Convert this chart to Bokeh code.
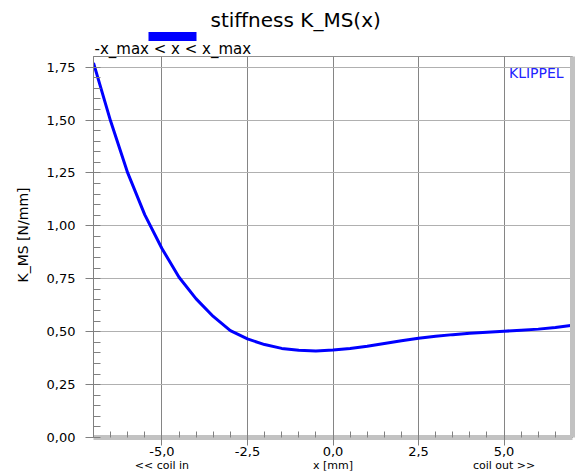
import numpy as np
from bokeh.plotting import figure
from bokeh.models import FixedTicker, Label, Range1d, Title, LinearAxis
from bokeh.embed import file_html
from bokeh.resources import INLINE

# ---- data ----
x_mm = [-7.0, -6.5, -6.0, -5.5, -5.0, -4.5, -4.0, -3.5, -3.0, -2.5, -2.0, -1.5,
        -1.0, -0.5, 0.0, 0.5, 1.0, 1.5, 2.0, 2.5, 3.0, 3.5, 4.0, 4.5, 5.0, 5.5,
        6.0, 6.5, 7.0]
k_ms = [1.77, 1.495, 1.25, 1.052, 0.893, 0.757, 0.655, 0.572, 0.505, 0.466, 0.439, 0.421,
        0.412, 0.409, 0.413, 0.421, 0.431, 0.444, 0.457, 0.469, 0.478, 0.486, 0.492, 0.497,
        0.502, 0.507, 0.512, 0.52, 0.53]

x_ticks = [-5.0, -2.5, 0.0, 2.5, 5.0]
x_tick_labels = ["-5,0", "-2,5", "0,0", "2,5", "5,0"]
y_ticks = [0.0, 0.25, 0.5, 0.75, 1.0, 1.25, 1.5, 1.75]
y_tick_labels = ["0,00", "0,25", "0,50", "0,75", "1,00", "1,25", "1,50", "1,75"]
x_sub_positions = [-5.0, 0.0, 5.0]
x_sub_labels = ["<< coil in", "x [mm]", "coil out >>"]
title_text = "stiffness K_MS(x)"
legend_text = "-x_max < x < x_max"
y_label_text = "K_MS [N/mm]"
brand_text = "KLIPPEL"

FONT = "DejaVu Sans"
GRAY = "#808080"
SHADOW = "#c2c2c2"

p = figure(width=576, height=475, title=None,
           x_range=Range1d(-7, 7), y_range=Range1d(0, 1.8),
           output_backend="svg", toolbar_location=None,
           min_border_left=90, min_border_right=4,
           min_border_top=56, min_border_bottom=38)

p.background_fill_color = "white"
p.border_fill_color = "white"
p.outline_line_color = "#909090"
p.outline_line_width = 1

# ---- bottom axis (numbers) ----
xa = p.xaxis[0]
xa.ticker = FixedTicker(ticks=x_ticks, minor_ticks=list(np.arange(-7.0, 7.01, 0.5)))
xa.major_label_overrides = dict(zip(x_ticks, x_tick_labels))
xa.axis_line_color = SHADOW
xa.axis_line_width = 5
xa.major_tick_line_color = GRAY
xa.minor_tick_line_color = GRAY
xa.major_tick_in = 7
xa.major_tick_out = 8
xa.minor_tick_in = 6
xa.minor_tick_out = 0
xa.major_label_standoff = 1
xa.major_label_text_font = FONT
xa.major_label_text_font_size = "13px"
xa.major_label_text_color = "black"

# ---- bottom sub-labels ----
sub = LinearAxis(ticker=FixedTicker(ticks=x_sub_positions, minor_ticks=[]),
                 major_label_overrides=dict(zip(x_sub_positions, x_sub_labels)),
                 axis_line_color=None, major_tick_line_color=None,
                 minor_tick_line_color=None, major_tick_in=0, major_tick_out=0,
                 minor_tick_in=0, minor_tick_out=0, major_label_standoff=0,
                 major_label_text_font=FONT, major_label_text_font_size="11px",
                 major_label_text_color="black")
p.add_layout(sub, "below")

# ---- left axis ----
ya = p.yaxis[0]
ya.ticker = FixedTicker(ticks=y_ticks, minor_ticks=list(np.arange(0.0, 1.801, 0.05)))
ya.major_label_overrides = dict(zip(y_ticks, y_tick_labels))
ya.axis_line_color = GRAY
ya.major_tick_line_color = GRAY
ya.minor_tick_line_color = GRAY
ya.major_tick_in = 0
ya.major_tick_out = 8
ya.minor_tick_in = 7
ya.minor_tick_out = 0
ya.major_label_standoff = 10
ya.major_label_text_font = FONT
ya.major_label_text_font_size = "13px"
ya.major_label_text_color = "black"

# ---- right "shadow" axis ----
ra = LinearAxis(ticker=FixedTicker(ticks=[], minor_ticks=[]),
                axis_line_color=SHADOW, axis_line_width=5,
                major_tick_line_color=None, minor_tick_line_color=None,
                major_tick_in=0, major_tick_out=0, minor_tick_in=0, minor_tick_out=0,
                major_label_standoff=0, major_label_text_font_size="1px")
p.add_layout(ra, "right")

p.xgrid.grid_line_color = "#858585"
p.ygrid.grid_line_color = "#b0b0b0"

# ---- curve ----
p.line(x_mm, k_ms, line_color="#0000ff", line_width=3)

# ---- texts above the frame (stacked outward from the frame) ----
p.add_layout(Title(text=legend_text, align="left", offset=1, standoff=-3,
                   text_font=FONT, text_font_size="15px", text_font_style="normal",
                   text_color="black"), "above")
p.add_layout(Title(text="\u2003" * 6, align="left", offset=55, standoff=-3,
                   text_font=FONT, text_font_size="8px", text_font_style="normal",
                   background_fill_color="#0000ff", text_color="#0000ff"), "above")
p.add_layout(Title(text=title_text, align="left", offset=117, standoff=0,
                   text_font=FONT, text_font_size="20px", text_font_style="normal",
                   text_color="black"), "above")

# ---- y label ----
p.add_layout(Title(text=y_label_text, align="left", offset=155, standoff=25,
                   text_font=FONT, text_font_size="14px", text_font_style="normal",
                   text_color="black"), "left")

# ---- brand ----
p.add_layout(Label(x=6.74, y=1.724, text=brand_text, text_align="right",
                   text_baseline="alphabetic", text_font=FONT, text_font_size="14px",
                   text_color="#2222ff"))

open("out.html", "w").write(file_html(p, INLINE))
